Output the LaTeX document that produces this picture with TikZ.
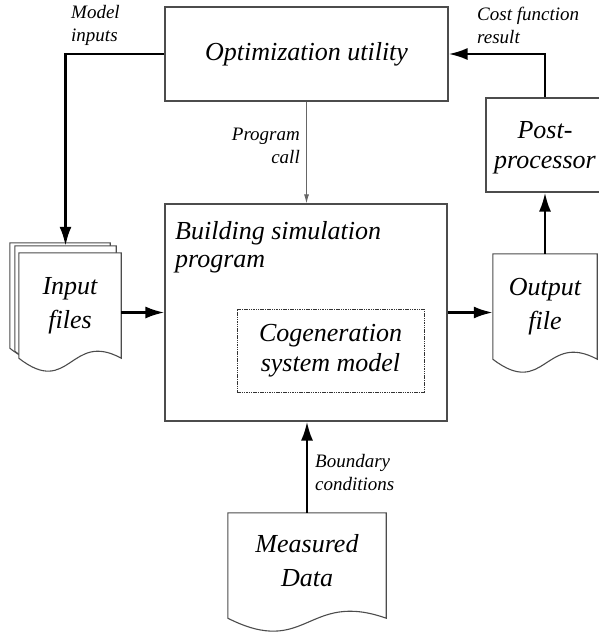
\documentclass[tikz,border=0pt]{standalone}
\usepackage{fontspec}
\setmainfont{Liberation Serif}
\usepackage{tikz}
\usetikzlibrary{arrows.meta,backgrounds}
\tikzstyle{process} = [rectangle, inner sep=0pt, text centered, draw=black!70, line width=1.1pt, font=\fontsize{26}{31}\selectfont\itshape]
\tikzstyle{subsystem} = [rectangle, inner sep=0pt, align=center, draw=black!80, line width=0.7pt, dash pattern=on 1.5pt off 0.8pt, font=\fontsize{26}{30}\selectfont\itshape]
\tikzstyle{doc} = [rectangle, inner sep=0pt, minimum height=105pt, align=center, font=\fontsize{26}{34}\selectfont\itshape]
\tikzstyle{docline} = [draw=black!70, line width=1.1pt, fill=white]
\tikzstyle{lbl} = [inner sep=0pt, font=\fontsize{19}{23}\selectfont\itshape]
\tikzstyle{arrow} = [line width=2.6pt, -{Latex[length=19pt,width=12pt]}]
\tikzstyle{thinarrow} = [line width=1pt, draw=black!60, -{Latex[length=9pt,width=5pt]}]
% document outline with wavy bottom
\newcommand{\docoutline}[1]{\draw[docline] (#1.south west) -- (#1.north west) -- (#1.north east) -- (#1.south east)
  .. controls ([yshift=28pt]#1.south) and ([yshift=-40pt]#1.south) .. (#1.south west) -- cycle;}

\begin{document}
\begin{tikzpicture}[x=1pt, y=-1pt]
        \useasboundingbox (0,0) rectangle (598,632);
        \node (opt) [process, minimum width=283pt, minimum height=94pt] at (306.5,54) {Optimization utility};
        \node (bsp) [process, minimum width=282pt, minimum height=217pt] at (306,312.5) {};
        \node (bsptext) [anchor=north west, align=left, inner sep=0pt, font=\fontsize{26}{28}\selectfont\itshape] at (175,221) {Building simulation\\program};
        \node (cogen) [subsystem, minimum width=187pt, minimum height=83pt] at (330.5,350.5) {Cogeneration\\system model};
        \node (post) [process, align=center, minimum width=118pt, minimum height=94pt, text depth=0pt, font=\fontsize{26}{30}\selectfont\itshape] at (545,145) {Post-\\processor};
        \node (insheetA) [doc, minimum width=100pt] at (60,295.5) {};
        \node (insheetB) [doc, minimum width=101pt] at (65.5,298.5) {};
        \node (infiles) [doc, minimum width=102pt] at (70,305.5) {Input\\files};
        \node (outfile) [doc, minimum width=104pt] at (545,306.5) {Output\\file};
        \node (measured) [doc, minimum width=158pt, text depth=10pt] at (307,565.5) {Measured\\Data};
        \begin{pgfonlayer}{background}
        \docoutline{insheetA}
        \docoutline{insheetB}
        \docoutline{infiles}
        \docoutline{outfile}
        \docoutline{measured}
        \end{pgfonlayer}
        % labels
        \node (lblinputs) [lbl, anchor=south west, align=left] at (71,46) {Model\\inputs};
        \node (lblcall) [lbl, anchor=north east, align=right] at (300,128) {Program\\call};
        \node (lblcost) [lbl, anchor=north west, align=left] at (477,7) {Cost function\\result};
        \node (lblbound) [lbl, anchor=north west, align=left] at (315,454) {Boundary\\conditions};
        % connectors
        \draw [arrow] (opt.west) -| (insheetB.north);
        \draw [thinarrow] (opt.south) -- (opt.south |- bsp.north);
        \draw [arrow] (bsp.west -| infiles.east) -- (bsp.west);
        \draw [arrow] (bsp.east) -- (bsp.east -| outfile.west);
        \draw [arrow] (outfile.north) -- (post.south);
        \draw [arrow] (post.north) |- (opt.east);
        \draw [arrow] (measured.north) -- (measured.north |- bsp.south);
\end{tikzpicture}
\end{document}
